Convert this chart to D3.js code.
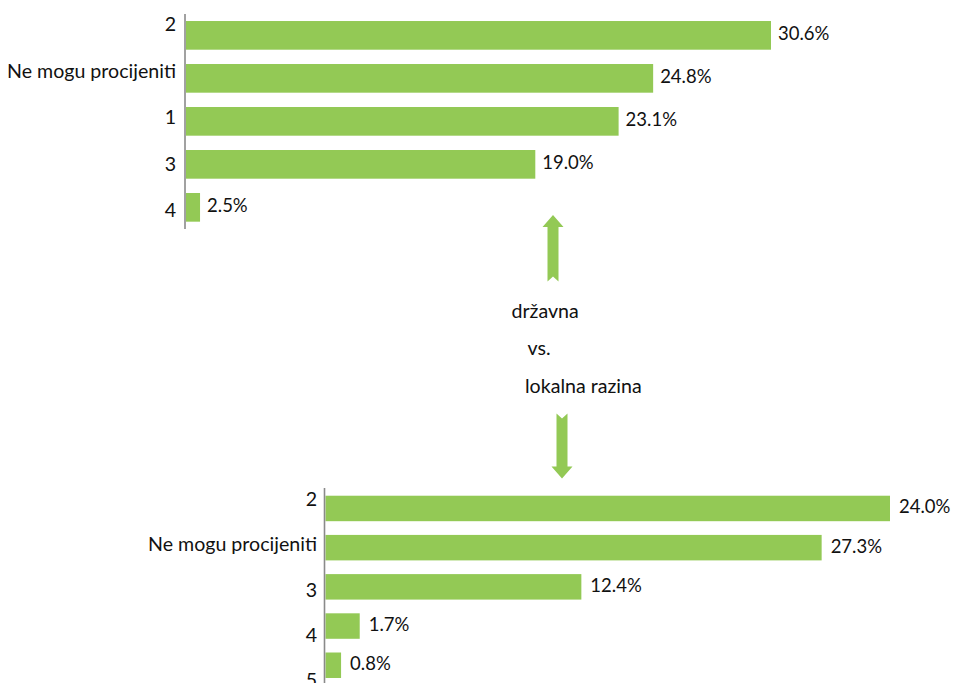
<!DOCTYPE html>
<html><head><meta charset="utf-8">
<script src="https://cdn.jsdelivr.net/npm/d3@7/dist/d3.min.js"></script>
<style>body{margin:0;background:#fff}svg{display:block}text{font-family:Lato,"Liberation Sans",sans-serif;fill:#111}</style>
</head><body><svg id="c" width="953" height="683"></svg>
<script>
// Top chart (državna razina)
const topCategories = ["2", "Ne mogu procijeniti", "1", "3", "4"];
const topValues = [30.6, 24.8, 23.1, 19.0, 2.5];
const topLabels = ["30.6%", "24.8%", "23.1%", "19.0%", "2.5%"];
// Bottom chart (lokalna razina) – bar lengths and printed labels as in the original
const bottomCategories = ["2", "Ne mogu procijeniti", "3", "4", "5"];
const bottomValues = [27.3, 24.0, 12.4, 1.7, 0.8];
const bottomLabels = ["24.0%", "27.3%", "12.4%", "1.7%", "0.8%"];
const middleText = ["državna", "vs.", "lokalna razina"];

const GREEN = "#93c955";
const svg = d3.select("#c");
const FS = 18.5;   // value labels
const FSC = 19.6;  // category labels and middle text

function drawChart(cfg){
  const g = svg.append("g");
  const x = d3.scaleLinear().domain(cfg.xDomain).range([cfg.x0, cfg.x1]);
  const y = d3.scaleBand().domain(cfg.cats).range(cfg.yRange).paddingInner(cfg.pad).paddingOuter(cfg.pad);
  const ly = d3.scalePoint().domain(cfg.cats).range(cfg.labelRange);
  g.selectAll("rect").data(cfg.values).join("rect")
    .attr("x", cfg.x0 + 1)
    .attr("y", (d,i)=>y(cfg.cats[i]))
    .attr("width", d=>x(d)-cfg.x0-1)
    .attr("height", y.bandwidth())
    .attr("fill", GREEN);
  g.selectAll("text.v").data(cfg.values).join("text").attr("class","v")
    .attr("x", d=>x(d)+cfg.gap)
    .attr("y", (d,i)=>y(cfg.cats[i])+y.bandwidth()/2+5)
    .attr("font-size", FS)
    .text((d,i)=>cfg.labels[i]);
  g.selectAll("text.c").data(cfg.cats).join("text").attr("class","c")
    .attr("x", cfg.labelX)
    .attr("y", d=>ly(d))
    .attr("text-anchor","end")
    .attr("font-size", FSC)
    .text(d=>d);
  g.append("line").attr("x1",cfg.x0).attr("x2",cfg.x0)
    .attr("y1",cfg.axisY[0]).attr("y2",cfg.axisY[1])
    .attr("stroke","#8a8a8a").attr("stroke-width",1.6);
}

drawChart({cats:topCategories, values:topValues, labels:topLabels,
  xDomain:[1.76, 30.6], x0:185, x1:771,
  yRange:[6.7, 236], pad:0.333, labelRange:[31, 217], labelX:176,
  axisY:[14, 229], gap:7});

drawChart({cats:bottomCategories, values:bottomValues, labels:bottomLabels,
  xDomain:[0, 27.3], x0:324.5, x1:890,
  yRange:[482, 691.7], pad:0.35, labelRange:[506, 687], labelX:317,
  axisY:[488, 683], gap:9});

// Arrows
function arrow(cx, tipY, baseY, dir){
  // dir = -1 up, +1 down; tipY = arrow tip, baseY = tail end
  const hw = 10.5, sw = 5.5, headLen = 12 , notch = 5;
  const headBase = tipY - dir*headLen;
  const p = d3.path();
  p.moveTo(cx, tipY);
  p.lineTo(cx+hw, headBase);
  p.lineTo(cx+sw, headBase);
  p.lineTo(cx+sw, baseY);
  p.lineTo(cx, baseY + dir*notch);
  p.lineTo(cx-sw, baseY);
  p.lineTo(cx-sw, headBase);
  p.lineTo(cx-hw, headBase);
  p.closePath();
  svg.append("path").attr("d", p.toString()).attr("fill", GREEN);
}
arrow(553, 215, 281.5, -1);
arrow(562, 478.5, 413.5, 1);

const midPos = [[511.5, 318], [527.5, 355], [525, 393]];
svg.selectAll("text.m").data(middleText).join("text").attr("class","m")
  .attr("x",(d,i)=>midPos[i][0]).attr("y",(d,i)=>midPos[i][1])
  .attr("font-size", FSC).text(d=>d);
</script></body></html>
